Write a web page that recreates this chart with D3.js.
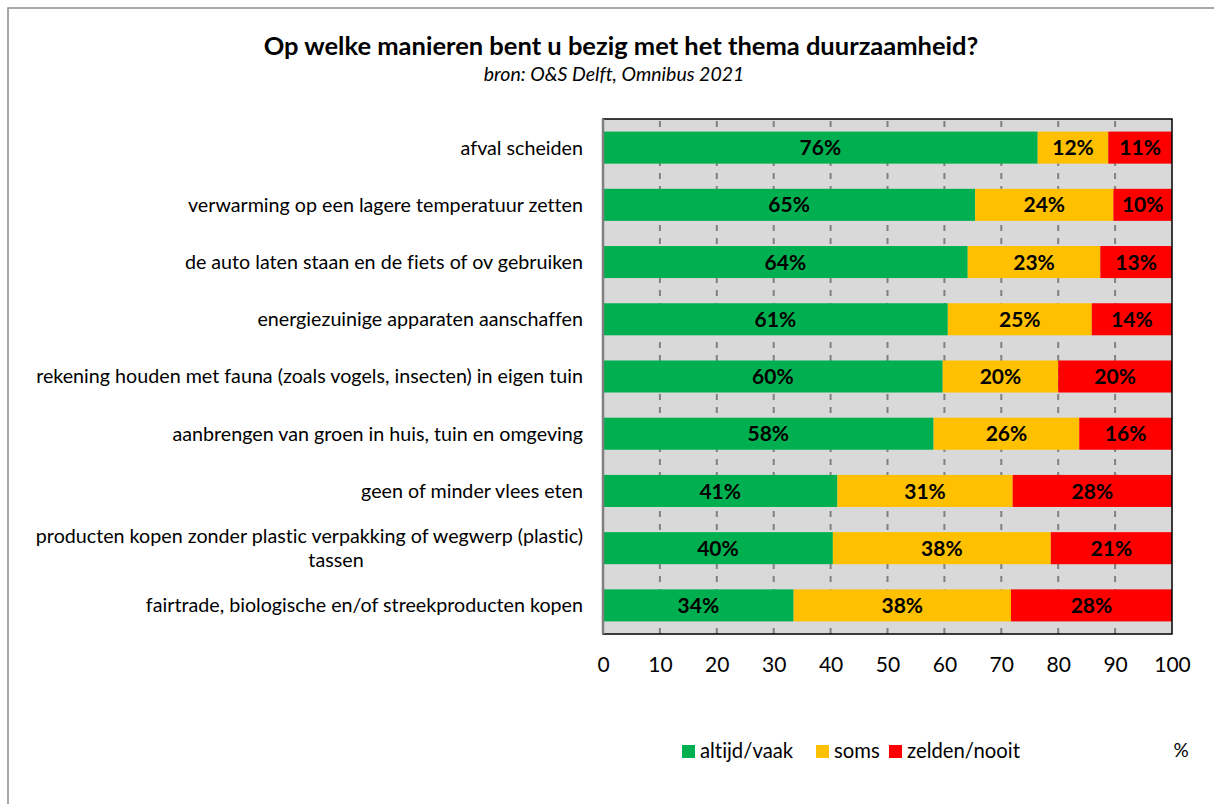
<!DOCTYPE html>
<meta charset="utf-8">
<style>
    body { margin: 0; background: #fff; }
    text { font-family: Lato, "Open Sans", sans-serif; font-variant-ligatures: none; }
    .axis path, .axis line { display: none; }
    .axis text { font-size: 21px; fill: #000; }
</style>
<div class="chart"></div>
<script src="https://cdn.jsdelivr.net/npm/d3@7"></script>
<script>
    // data
    var categories = [
        "afval scheiden",
        "verwarming op een lagere temperatuur zetten",
        "de auto laten staan en de fiets of ov gebruiken",
        "energiezuinige apparaten aanschaffen",
        "rekening houden met fauna (zoals vogels, insecten) in eigen tuin",
        "aanbrengen van groen in huis, tuin en omgeving",
        "geen of minder vlees eten",
        "producten kopen zonder plastic verpakking of wegwerp (plastic)|tassen",
        "fairtrade, biologische en/of streekproducten kopen"
    ];
    var altijd = [76.4, 65.4, 64.1, 60.6, 59.7, 58.1, 41.2, 40.4, 33.5];
    var soms   = [12.4, 24.3, 23.3, 25.3, 20.3, 25.6, 30.8, 38.3, 38.2];
    var zelden = [11.2, 10.3, 12.6, 14.1, 20.0, 16.3, 28.0, 21.3, 28.3];
    var seriesNames = ["altijd/vaak", "soms", "zelden/nooit"];
    var seriesColors = ["#00b050", "#ffc000", "#ff0000"];
    var xTicks = [0, 10, 20, 30, 40, 50, 60, 70, 80, 90, 100];

    var W = 1214, H = 804;
    var plot = {left: 603, right: 1172, top: 119, bottom: 634};

    var svg = d3.select(".chart").append("svg")
        .attr("width", W)
        .attr("height", H);

    // outer frame
    svg.append("rect")
        .attr("x", 8).attr("y", 8)
        .attr("width", W).attr("height", H)
        .attr("fill", "#fff")
        .attr("stroke", "#8c8c8c")
        .attr("stroke-width", 1.5);

    // titles
    svg.append("text")
        .attr("x", 621).attr("y", 55)
        .attr("text-anchor", "middle")
        .attr("font-weight", "bold")
        .attr("font-size", "25.5px")
        .text("Op welke manieren bent u bezig met het thema duurzaamheid?");
    svg.append("text")
        .attr("x", 614).attr("y", 81)
        .attr("text-anchor", "middle")
        .attr("font-style", "italic")
        .attr("font-size", "19.5px")
        .text("bron: O&S Delft, Omnibus 2021");

    var x = d3.scaleLinear().domain([0, 100]).range([plot.left, plot.right]);
    var y = d3.scaleBand().domain(categories)
        .range([plot.top, plot.bottom])
        .paddingInner(0.44).paddingOuter(0.22);

    // background
    svg.append("rect")
        .attr("x", plot.left).attr("y", plot.top)
        .attr("width", plot.right - plot.left)
        .attr("height", plot.bottom - plot.top)
        .attr("fill", "#d9d9d9");

    // dashed grid
    svg.append("g").selectAll("line")
        .data(xTicks.slice(1, -1))
        .enter().append("line")
        .attr("x1", function(d) { return x(d); })
        .attr("x2", function(d) { return x(d); })
        .attr("y1", plot.top + 2)
        .attr("y2", plot.bottom)
        .attr("stroke", "#808080")
        .attr("stroke-width", 2)
        .attr("stroke-dasharray", "6,7");

    // stack
    var rows = categories.map(function(c, i) {
        return {cat: c, "altijd/vaak": altijd[i], "soms": soms[i], "zelden/nooit": zelden[i]};
    });
    var stacked = d3.stack().keys(seriesNames)(rows);

    var layers = svg.append("g").selectAll("g")
        .data(stacked)
        .enter().append("g")
        .attr("fill", function(d, i) { return seriesColors[i]; });

    layers.selectAll("rect")
        .data(function(d) { return d; })
        .enter().append("rect")
        .attr("x", function(d) { return x(d[0]); })
        .attr("width", function(d) { return x(d[1]) - x(d[0]); })
        .attr("y", function(d) { return y(d.data.cat); })
        .attr("height", y.bandwidth());

    layers.selectAll("text")
        .data(function(d) { return d; })
        .enter().append("text")
        .attr("x", function(d) { return (x(d[0]) + x(d[1])) / 2; })
        .attr("y", function(d) { return y(d.data.cat) + y.bandwidth() / 2; })
        .attr("dy", "0.36em")
        .attr("text-anchor", "middle")
        .attr("font-weight", "bold")
        .attr("font-size", "21px")
        .attr("fill", "#000")
        .text(function(d) { return Math.round(d[1] - d[0]) + "%"; });

    // plot border
    svg.append("rect")
        .attr("x", plot.left).attr("y", plot.top)
        .attr("width", plot.right - plot.left)
        .attr("height", plot.bottom - plot.top)
        .attr("fill", "none")
        .attr("stroke", "#000")
        .attr("stroke-width", 1.5);
    svg.append("line")
        .attr("x1", plot.left).attr("x2", plot.left)
        .attr("y1", plot.top).attr("y2", plot.bottom)
        .attr("stroke", "#808080")
        .attr("stroke-width", 2.5);

    // category labels
    var catG = svg.append("g");
    categories.forEach(function(c) {
        var lines = c.split("|");
        var cy = y(c) + y.bandwidth() / 2;
        lines.forEach(function(l, k) {
            var t = catG.append("text")
                .attr("y", cy + (k - (lines.length - 1) / 2) * 24)
                .attr("dy", "0.35em")
                .attr("font-size", "19.7px")
                .attr("fill", "#000")
                .text(l);
            if (k == 0) t.attr("x", 583).attr("text-anchor", "end");
            else t.attr("x", 336).attr("text-anchor", "middle");
        });
    });

    // x axis
    svg.append("g")
        .attr("class", "axis")
        .attr("transform", "translate(0," + plot.bottom + ")")
        .call(d3.axisBottom(x).tickValues(xTicks).tickSize(0).tickPadding(23).tickFormat(d3.format("d")))
        .selectAll("text").attr("font-size", "21px");

    // legend
    var legX = [682, 816, 889];
    var leg = svg.append("g");
    seriesNames.forEach(function(n, i) {
        leg.append("rect")
            .attr("x", legX[i]).attr("y", 745)
            .attr("width", 13).attr("height", 13)
            .attr("fill", seriesColors[i]);
        leg.append("text")
            .attr("x", legX[i] + 18).attr("y", 758)
            .attr("font-size", "20.3px")
            .text(n);
    });
    svg.append("text")
        .attr("x", 1181).attr("y", 757)
        .attr("text-anchor", "middle")
        .attr("font-size", "19px")
        .text("%");
</script>
